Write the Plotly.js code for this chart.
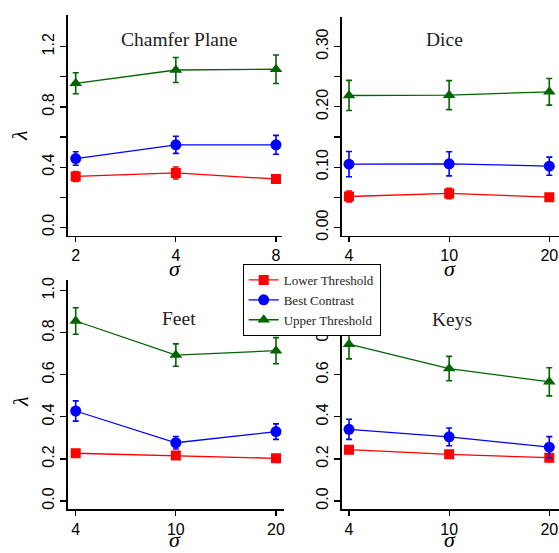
<!DOCTYPE html>
<html>
<head>
<meta charset="utf-8">
<script src="https://cdn.plot.ly/plotly-3.0.1.min.js"></script>
<style>html,body{margin:0;padding:0;background:#fff;}#chart{width:559px;height:553px;}</style>
</head>
<body>
<div id="chart"></div>
<script>
// ---- data ----
const sigmaChamfer = ["2", "4", "8"];
const sigmaOther = ["4", "10", "20"];
const seriesNames = ["Lower Threshold", "Best Contrast", "Upper Threshold"];

// Chamfer Plane
const chamferLower = [0.338, 0.361, 0.321];
const chamferLowerErr = [0.033, 0.040, 0.022];
const chamferBest = [0.457, 0.548, 0.548];
const chamferBestErr = [0.045, 0.057, 0.063];
const chamferUpper = [0.957, 1.045, 1.050];
const chamferUpperErr = [0.070, 0.083, 0.095];

// Dice
const diceLower = [0.0514, 0.0564, 0.0503];
const diceLowerErr = [0.009, 0.0085, 0.003];
const diceBest = [0.105, 0.1056, 0.1017];
const diceBestErr = [0.021, 0.020, 0.015];
const diceUpper = [0.2188, 0.2194, 0.2249];
const diceUpperErr = [0.025, 0.024, 0.022];

// Feet
const feetLower = [0.227, 0.216, 0.203];
const feetLowerErr = [0.005, 0.012, 0.012];
const feetBest = [0.428, 0.277, 0.330];
const feetBestErr = [0.048, 0.030, 0.037];
const feetUpper = [0.856, 0.694, 0.715];
const feetUpperErr = [0.063, 0.053, 0.062];

// Keys
const keysLower = [0.244, 0.222, 0.206];
const keysLowerErr = [0.018, 0.005, 0.010];
const keysBest = [0.341, 0.305, 0.256];
const keysBestErr = [0.048, 0.042, 0.050];
const keysUpper = [0.746, 0.630, 0.567];
const keysUpperErr = [0.070, 0.058, 0.067];

// tick values / labels
const tickValsChamfer = [0, 0.2, 0.4, 0.6, 0.8, 1.0, 1.2];
const tickTextChamfer = ["0.0", "", "0.4", "", "0.8", "", "1.2"];
const tickValsDice = [0, 0.05, 0.10, 0.15, 0.20, 0.25, 0.30];
const tickTextDice = ["0.00", "", "0.10", "", "0.20", "", "0.30"];
const tickValsUnit = [0, 0.2, 0.4, 0.6, 0.8, 1.0];
const tickTextUnit = ["0.0", "0.2", "0.4", "0.6", "0.8", "1.0"];

const panelTitles = ["Chamfer Plane", "Dice", "Feet", "Keys"];

// ---- styling ----
const colors = ["#ff0000", "#0000ff", "#006400"];
const symbols = ["square", "circle", "triangle-up"];
const sizes = [10, 11, 11];

const panels = [
  {x: sigmaChamfer, ys: [chamferLower, chamferBest, chamferUpper], es: [chamferLowerErr, chamferBestErr, chamferUpperErr], xa: "x", ya: "y"},
  {x: sigmaOther, ys: [diceLower, diceBest, diceUpper], es: [diceLowerErr, diceBestErr, diceUpperErr], xa: "x2", ya: "y2"},
  {x: sigmaOther, ys: [feetLower, feetBest, feetUpper], es: [feetLowerErr, feetBestErr, feetUpperErr], xa: "x3", ya: "y3"},
  {x: sigmaOther, ys: [keysLower, keysBest, keysUpper], es: [keysLowerErr, keysBestErr, keysUpperErr], xa: "x4", ya: "y4"}
];

const traces = [];
panels.forEach((p, pi) => {
  for (let s = 0; s < 3; s++) {
    traces.push({
      type: "scatter",
      mode: "lines+markers",
      x: p.x,
      y: p.ys[s],
      xaxis: p.xa,
      yaxis: p.ya,
      name: seriesNames[s],
      showlegend: pi === 0,
      line: {color: colors[s], width: 1.3},
      marker: {color: colors[s], symbol: symbols[s], size: sizes[s]},
      error_y: {type: "data", array: p.es[s], visible: true, color: colors[s], thickness: 1.6, width: 3}
    });
  }
});

const W = 559, H = 553;
const SERIF = "Liberation Serif";
const SANS = "Liberation Sans";
const tickFont = {family: SANS, size: 16, color: "#000"};

function xAxis(domPx, rangeVals) {
  return {
    type: "category",
    domain: [domPx[0] / W, domPx[1] / W],
    range: rangeVals,
    showline: true, linecolor: "#000", linewidth: 1.5,
    showgrid: false, zeroline: false,
    ticks: "outside", ticklen: 5, tickwidth: 1.2, tickcolor: "#000",
    tickfont: tickFont, fixedrange: true
  };
}
function yAxis(domPx, rangeVals, tv, tt, anchor) {
  return {
    domain: [1 - domPx[1] / H, 1 - domPx[0] / H],
    range: rangeVals,
    anchor: anchor,
    showline: true, linecolor: "#000", linewidth: 1.5,
    showgrid: false, zeroline: false,
    tickmode: "array", tickvals: tv, ticktext: tt,
    ticks: "outside", ticklen: 6, tickwidth: 1.2, tickcolor: "#000",
    tickangle: -90,
    tickfont: tickFont, fixedrange: true
  };
}

const titleFont = {family: SERIF, size: 19.5, color: "#222"};
const axTitleFont = {family: SERIF, size: 22, color: "#000"};

function ann(text, xpx, ypx, font, angle, yanchor) {
  return {text: text, xref: "paper", yref: "paper", x: xpx / W, y: 1 - ypx / H,
          xanchor: "center", yanchor: yanchor || "middle", showarrow: false, font: font,
          textangle: angle || 0, borderpad: 0};
}

const layout = {
  width: W, height: H,
  margin: {l: 0, r: 0, t: 0, b: 0},
  paper_bgcolor: "#fff", plot_bgcolor: "rgba(0,0,0,0)",
  xaxis: Object.assign(xAxis([67.7, 282], [-0.08, 2.06]), {anchor: "y"}),
  yaxis: yAxis([15, 235.7], [-0.0558, 1.4106], tickValsChamfer, tickTextChamfer, "x"),
  xaxis2: Object.assign(xAxis([341.7, 559], [-0.073, 2.097]), {anchor: "y2"}),
  yaxis2: yAxis([16.7, 235.7], [-0.0136, 0.3494], tickValsDice, tickTextDice, "x2"),
  xaxis3: Object.assign(xAxis([67.7, 284], [-0.08, 2.08]), {anchor: "y3"}),
  yaxis3: yAxis([280, 509.3], [-0.0395, 1.051], tickValsUnit, tickTextUnit, "x3"),
  xaxis4: Object.assign(xAxis([341.7, 559], [-0.073, 2.097]), {anchor: "y4"}),
  yaxis4: yAxis([280, 509.3], [-0.0395, 1.051], tickValsUnit, tickTextUnit, "x4"),
  showlegend: true,
  legend: {
    x: 242.7 / W, y: 1 - 264 / H, xanchor: "left", yanchor: "top",
    bgcolor: "#fff", bordercolor: "#000", borderwidth: 1,
    font: {family: SERIF, size: 13, color: "#222"},
    itemwidth: 30, tracegroupgap: 0, traceorder: "normal"
  },
  annotations: [
    ann(panelTitles[0], 179, 39, titleFont),
    ann(panelTitles[1], 444, 39, titleFont),
    ann(panelTitles[2], 179, 318, titleFont),
    ann(panelTitles[3], 451.7, 319, titleFont),
    ann("<i>σ</i>", 175, 282, axTitleFont, 0, "bottom"),
    ann("<i>σ</i>", 450, 282, axTitleFont, 0, "bottom"),
    ann("<i>σ</i>", 175, 553, axTitleFont, 0, "bottom"),
    ann("<i>σ</i>", 450, 553, axTitleFont, 0, "bottom"),
    ann("<i>λ</i>", 20, 136, axTitleFont, -90),
    ann("<i>λ</i>", 20, 402, axTitleFont, -90)
  ]
};

Plotly.newPlot("chart", traces, layout, {displayModeBar: false, staticPlot: true});
</script>
</body>
</html>
